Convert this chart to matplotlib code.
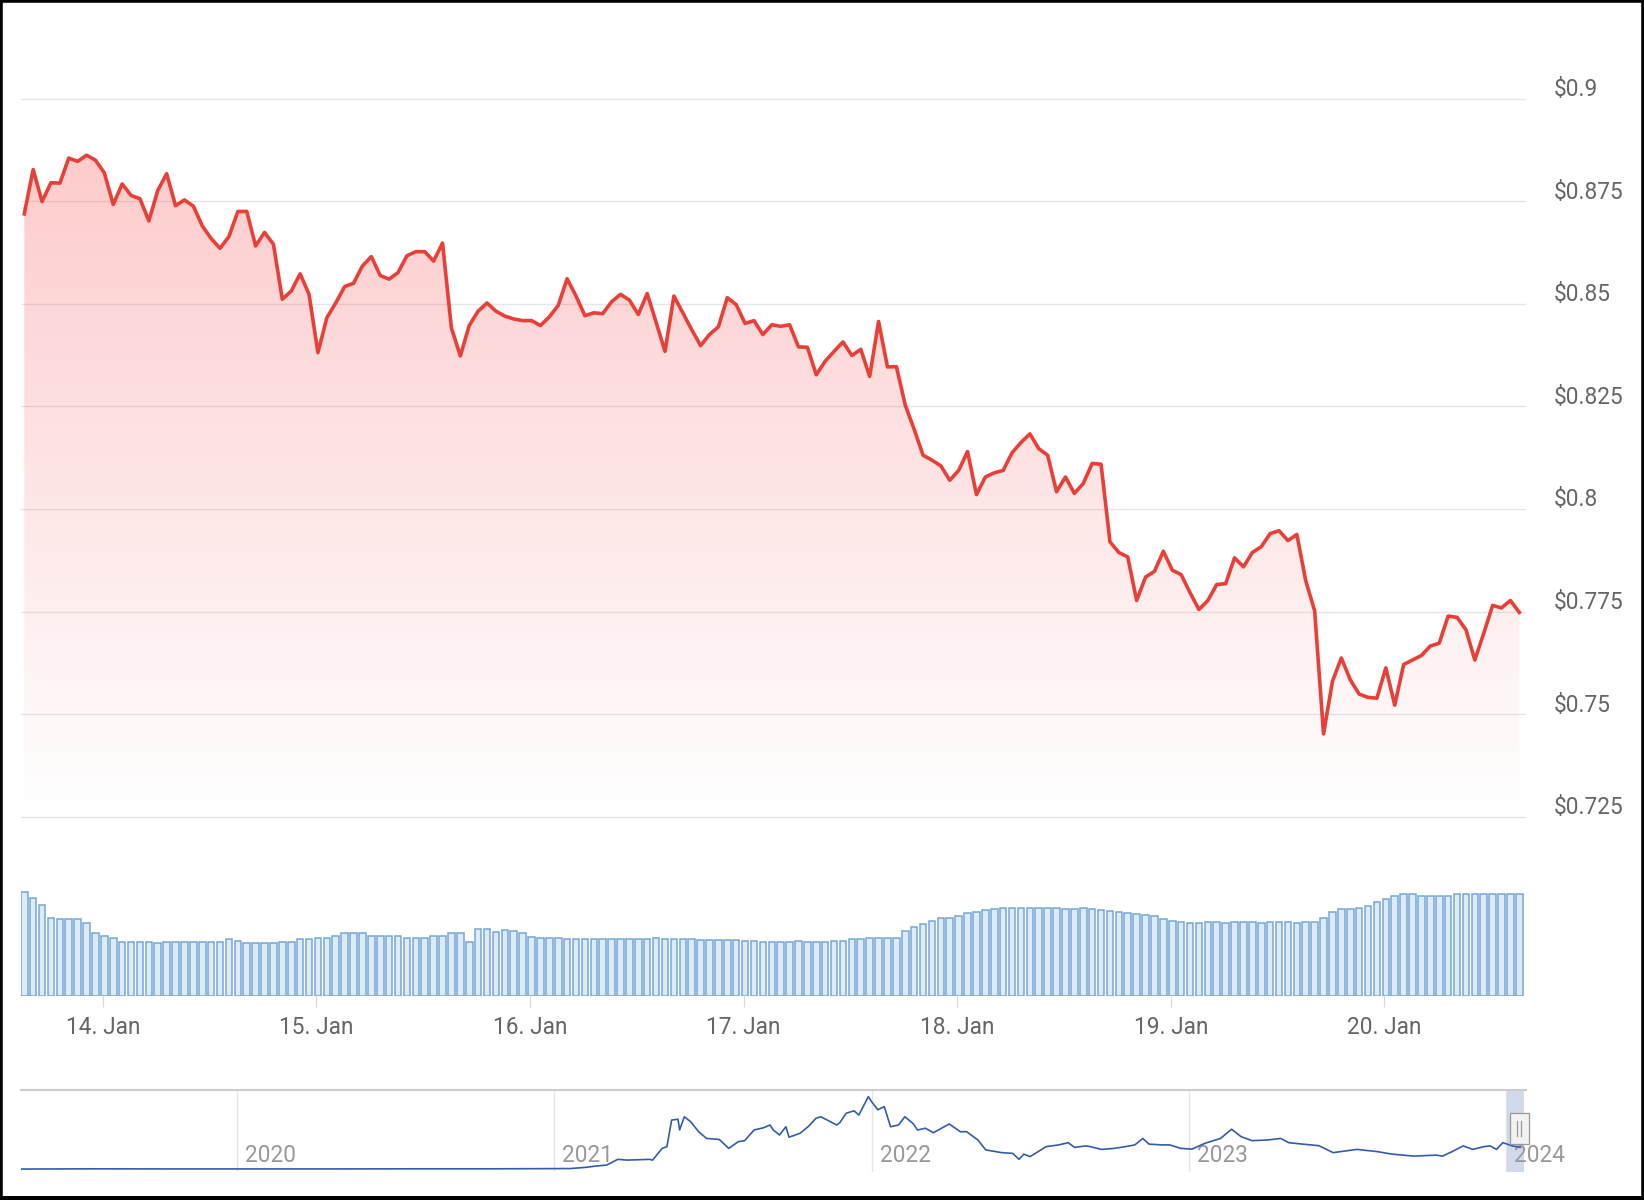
import numpy as np
import pandas as pd
import matplotlib
matplotlib.use('Agg')
import matplotlib.pyplot as plt
import matplotlib.dates as mdates
import matplotlib.transforms as mtransforms
from matplotlib.patches import Rectangle, PathPatch

W, H = 1644, 1200
plt.rcParams['font.family'] = ['Roboto', 'DejaVu Sans']

# ---------------- data ----------------
START = '2024-01-13 15:10'   # first hourly price point
price = [
    0.8719, 0.8827, 0.8749, 0.8795, 0.8794, 0.8855, 0.8847, 0.8862, 0.8850, 0.8819,
    0.8742, 0.8792, 0.8764, 0.8756, 0.8702, 0.8776, 0.8817, 0.8739, 0.8753, 0.8738,
    0.8690, 0.8659, 0.8635, 0.8664, 0.8725, 0.8725, 0.8641, 0.8674, 0.8645, 0.8511,
    0.8531, 0.8573, 0.8523, 0.8381, 0.8466, 0.8502, 0.8542, 0.8550, 0.8592, 0.8615,
    0.8569, 0.8560, 0.8576, 0.8617, 0.8627, 0.8627, 0.8604, 0.8648, 0.8441, 0.8373,
    0.8447, 0.8482, 0.8502, 0.8482, 0.8470, 0.8463, 0.8459, 0.8459, 0.8447, 0.8468,
    0.8496, 0.8561, 0.8519, 0.8471, 0.8478, 0.8476, 0.8505, 0.8523, 0.8509, 0.8474,
    0.8525, 0.8455, 0.8384, 0.8519, 0.8478, 0.8437, 0.8398, 0.8425, 0.8444, 0.8515,
    0.8498, 0.8452, 0.8459, 0.8425, 0.8449, 0.8445, 0.8449, 0.8395, 0.8394, 0.8327,
    0.8360, 0.8384, 0.8407, 0.8374, 0.8389, 0.8323, 0.8457, 0.8346, 0.8347, 0.8253,
    0.8194, 0.8131, 0.8119, 0.8105, 0.8070, 0.8094, 0.8140, 0.8035, 0.8078, 0.8088,
    0.8094, 0.8137, 0.8162, 0.8183, 0.8147, 0.8131, 0.8042, 0.8078, 0.8038, 0.8062,
    0.8111, 0.8109, 0.7920, 0.7894, 0.7883, 0.7777, 0.7834, 0.7848, 0.7897, 0.7851,
    0.7840, 0.7796, 0.7755, 0.7777, 0.7816, 0.7818, 0.7881, 0.7859, 0.7894, 0.7908,
    0.7940, 0.7947, 0.7923, 0.7938, 0.7825, 0.7752, 0.7452, 0.7580, 0.7637, 0.7584,
    0.7549, 0.7541, 0.7539, 0.7613, 0.7522, 0.7621, 0.7632, 0.7643, 0.7666, 0.7673,
    0.7739, 0.7736, 0.7706, 0.7632, 0.7697, 0.7765, 0.7759, 0.7777, 0.7748,
]
volume = [
    104, 98, 91, 78, 77, 77, 77, 73, 63, 60,
    58, 54, 54, 54, 54, 53, 54, 54, 54, 54,
    54, 54, 54, 57, 55, 53, 53, 53, 53, 54,
    54, 57, 57, 58, 58, 60, 63, 63, 63, 60,
    60, 60, 60, 58, 58, 58, 60, 60, 63, 63,
    54, 67, 67, 64, 66, 65, 63, 59, 58, 58,
    58, 57, 57, 57, 57, 57, 57, 57, 57, 57,
    57, 58, 57, 57, 57, 57, 56, 56, 56, 56,
    56, 55, 55, 54, 54, 54, 54, 55, 54, 54,
    54, 55, 55, 57, 57, 58, 58, 58, 58, 65,
    69, 72, 75, 78, 78, 80, 83, 84, 86, 87,
    88, 88, 88, 88, 88, 88, 88, 87, 87, 88,
    87, 86, 85, 84, 83, 82, 81, 80, 77, 75,
    74, 73, 73, 74, 74, 73, 74, 74, 74, 73,
    74, 74, 74, 73, 74, 74, 78, 84, 87, 87,
    88, 90, 94, 97, 100, 102, 102, 100, 100, 100,
    100, 102, 102, 102, 102, 102, 102, 102, 102,
]
day_ticks = ['2024-01-14', '2024-01-15', '2024-01-16', '2024-01-17',
             '2024-01-18', '2024-01-19', '2024-01-20']
day_labels = ['14. Jan', '15. Jan', '16. Jan', '17. Jan', '18. Jan', '19. Jan', '20. Jan']
y_ticks = [0.9, 0.875, 0.85, 0.825, 0.8, 0.775, 0.75, 0.725]
y_labels = ['$0.9', '$0.875', '$0.85', '$0.825', '$0.8', '$0.775', '$0.75', '$0.725']

nav_years = [2019.32, 2019.55, 2019.80, 2020.05, 2020.30, 2020.55, 2020.80, 2021.05,
             2021.10, 2021.13, 2021.165, 2021.20, 2021.23, 2021.30, 2021.31, 2021.34, 2021.355,
             2021.37, 2021.39, 2021.395, 2021.41, 2021.43, 2021.455, 2021.48, 2021.52, 2021.55,
             2021.58, 2021.60, 2021.63, 2021.66, 2021.68, 2021.69, 2021.71, 2021.73, 2021.74,
             2021.76, 2021.775, 2021.80, 2021.825,
             2021.84, 2021.86, 2021.89, 2021.90, 2021.92, 2021.945, 2021.96, 2021.99,
             2022.00, 2022.02, 2022.04, 2022.06, 2022.085, 2022.105, 2022.13, 2022.145, 2022.17,
             2022.195, 2022.245, 2022.28, 2022.30, 2022.335, 2022.36, 2022.41, 2022.445, 2022.465,
             2022.48, 2022.50, 2022.525, 2022.55, 2022.59, 2022.62, 2022.64, 2022.675, 2022.69,
             2022.725, 2022.765, 2022.80, 2022.83, 2022.855, 2022.875, 2022.915, 2022.94, 2022.975,
             2023.01, 2023.05, 2023.10, 2023.135, 2023.165, 2023.20, 2023.25, 2023.29, 2023.315,
             2023.36, 2023.41, 2023.455, 2023.53, 2023.595, 2023.64, 2023.71, 2023.78, 2023.80,
             2023.83, 2023.865, 2023.895, 2023.93, 2023.95, 2023.97, 2023.99,
             2024.02, 2024.045]
nav_values = [0.01, 0.02, 0.015, 0.015, 0.015, 0.02, 0.02, 0.03,
              0.08, 0.13, 0.17, 0.40, 0.37, 0.40, 0.37, 0.84, 0.91,
              1.98, 2.01, 1.58, 2.11, 1.91, 1.51, 1.24, 1.20, 0.84,
              1.11, 1.15, 1.58, 1.67, 1.78, 1.58, 1.38, 1.71, 1.29,
              1.38, 1.45, 1.71, 2.05,
              2.11, 1.98, 1.78, 1.87, 2.25, 2.35, 2.18, 2.92,
              2.72, 2.39, 2.52, 1.71, 1.78, 2.11, 1.85, 1.58, 1.65,
              1.47, 1.82, 1.51, 1.51, 1.18, 0.78, 0.67, 0.64, 0.40,
              0.61, 0.51, 0.71, 0.91, 0.98, 1.07, 0.88, 0.94, 0.91,
              0.80, 0.84, 0.91, 0.98, 1.24, 1.01, 0.98, 0.98, 0.84,
              0.81, 1.04, 1.24, 1.61, 1.31, 1.15, 1.18, 1.24, 1.07,
              1.01, 0.95, 0.67, 0.80, 0.71, 0.61, 0.53, 0.57, 0.53,
              0.71, 0.94, 0.80, 0.91, 0.94, 0.80, 1.07,
              0.94, 0.88]
year_ticks = [2020, 2021, 2022, 2023, 2024]
year_labels = ['2020', '2021', '2022', '2023', '2024']

# ---------------- styling ----------------
LINE_RED = '#e93f37'
GRID = '#e6e6e6'
LABEL = '#666666'
FS = 16.3

def rect(x0, y0, x1, y1):
    return [x0 / W, 1 - y1 / H, (x1 - x0) / W, (y1 - y0) / H]

fig = plt.figure(figsize=(W / 100, H / 100), dpi=100, facecolor='white')

times = pd.date_range(START, periods=len(price), freq='h')
tnum = mdates.date2num(times)
xlim = (mdates.date2num(pd.Timestamp('2024-01-13 14:48')),
        mdates.date2num(pd.Timestamp('2024-01-20 15:55')))

# ---- price panel ----
ax = fig.add_axes(rect(21, 80, 1526, 830))
ax.set_facecolor('none')
ylo, yhi = 0.72178, 0.90453
ax.set_ylim(ylo, yhi)
ax.set_xlim(*xlim)
for s in ax.spines.values():
    s.set_visible(False)
ax.set_yticks(y_ticks)
ax.tick_params(left=False, bottom=False, labelleft=False, labelbottom=False)
ax.set_xticks([])
ax.grid(axis='y', color=GRID, lw=1.0)
ax.set_axisbelow(True)

# gradient fill under the line
n = 400
yy = np.linspace(ylo, yhi, n)
alpha = np.clip((yy - 0.725) / (0.9 - 0.725), 0, 1.05) * 0.29
grad = np.zeros((n, 1, 4))
grad[:, 0, 0] = 0.98
grad[:, 0, 1] = 0.24
grad[:, 0, 2] = 0.24
grad[:, 0, 3] = alpha
im = ax.imshow(grad, extent=[xlim[0], xlim[1], ylo, yhi], origin='lower',
               aspect='auto', interpolation='bilinear', zorder=1)
poly = ax.fill_between(tnum, price, ylo, facecolor='none', edgecolor='none')
clip = PathPatch(poly.get_paths()[0], transform=ax.transData,
                 facecolor='none', edgecolor='none')
ax.add_patch(clip)
im.set_clip_path(clip)
ax.plot(tnum, price, color=LINE_RED, lw=2.6, solid_joinstyle='round', zorder=3)

trans = mtransforms.blended_transform_factory(fig.transFigure, ax.transData)
trans = mtransforms.offset_copy(trans, fig=fig, y=9, units='dots')
for v, lab in zip(y_ticks, y_labels):
    ax.text(1554 / W, v, lab, transform=trans, ha='left', va='center',
            fontsize=FS, color=LABEL, clip_on=False)

# ---- volume panel ----
axv = fig.add_axes(rect(21, 891, 1526, 996))
axv.set_facecolor('none')
axv.set_xlim(*xlim)
axv.set_ylim(0, 105)
axv.bar(tnum, volume, width=0.74 / 24, color='#dcebf9', edgecolor='#77a7d6',
        linewidth=1.1, align='center')
for s in axv.spines.values():
    s.set_visible(False)
axv.set_yticks([])
axv.set_xticks(mdates.date2num(pd.to_datetime(day_ticks)))
axv.set_xticklabels(day_labels)
axv.tick_params(axis='x', length=8, width=0.8, color='#d6d6d6',
                labelsize=FS, labelcolor=LABEL, pad=6.5)

# ---- navigator ----
axn = fig.add_axes(rect(21, 1090, 1526, 1172))
axn.set_facecolor('none')
axn.set_xlim(2019.319, 2024.063)
axn.set_ylim(-0.108, 3.185)
for s in axn.spines.values():
    s.set_visible(False)
axn.set_xticks([])
axn.set_yticks([])
for yr, lab in zip(year_ticks, year_labels):
    axn.axvline(yr, color=GRID, lw=1.0, zorder=0)
    tr = mtransforms.offset_copy(
        mtransforms.blended_transform_factory(axn.transData, axn.transAxes),
        fig=fig, x=8, units='dots')
    axn.text(yr, 0.20, lab, transform=tr, ha='left', va='center',
             fontsize=FS, color='#999999')
axn.plot(nav_years, nav_values, color='#335cad', lw=1.2, zorder=3)
axn.axvspan(2024.003, 2024.057, color=(0.4, 0.52, 0.76, 0.3), lw=0, zorder=2)
axn.axhline(3.185, color='#cccccc', lw=1.5, zorder=4, clip_on=False)

# navigator handle
hx0, hy0, hx1, hy1 = 1510, 1113, 1529, 1144
fig.patches.append(Rectangle((hx0 / W, 1 - hy1 / H), (hx1 - hx0) / W, (hy1 - hy0) / H,
                             transform=fig.transFigure, facecolor='#f2f2f2',
                             edgecolor='#999999', lw=0.9, zorder=5))
for lx in (1517, 1521):
    fig.add_artist(plt.Line2D([lx / W, lx / W], [1 - 1136 / H, 1 - 1121 / H],
                              transform=fig.transFigure, color='#999999', lw=0.9, zorder=6))

# outer black frame of the screenshot
fig.patches.append(Rectangle((0, 0), 1, 1, transform=fig.transFigure, fill=False,
                             edgecolor='black', lw=4.0, zorder=10))
fig.patches.append(Rectangle((0, 0), 1, 4 / H, transform=fig.transFigure,
                             facecolor='black', edgecolor='none', zorder=10))

fig.savefig('out.png', dpi=100, facecolor='white')
